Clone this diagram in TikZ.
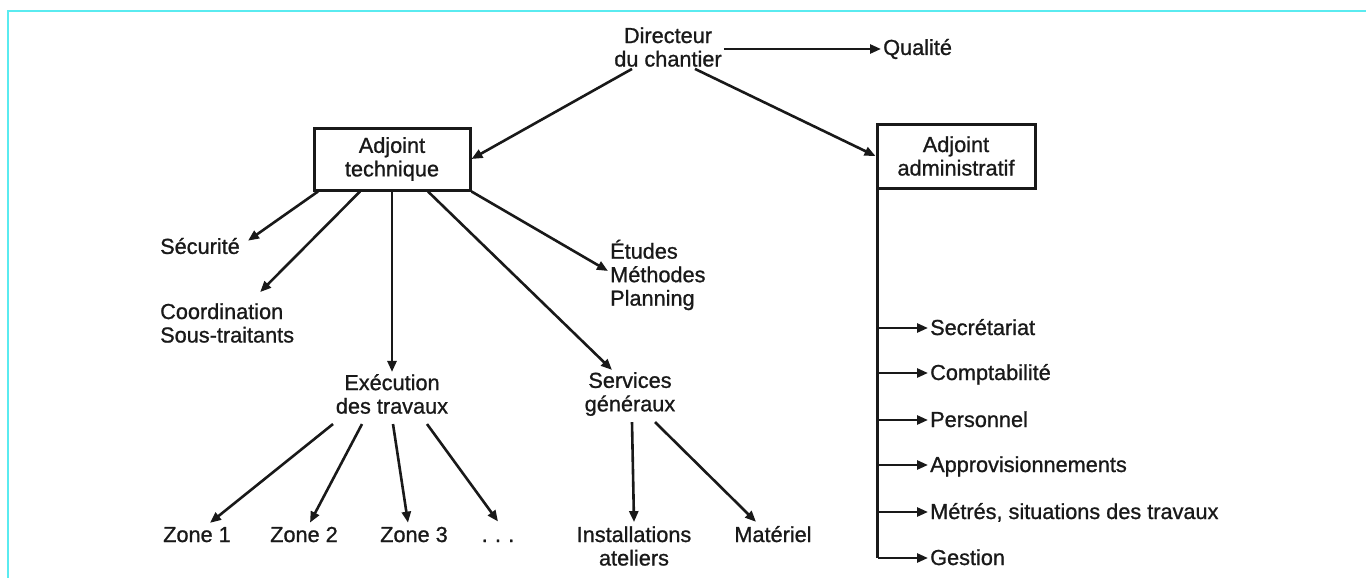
\documentclass[tikz,border=0pt]{standalone}
\usepackage{fontspec}
\setmainfont[FakeBold=1]{Liberation Sans}
\usepackage{tikz}
\usetikzlibrary{positioning,arrows.meta}
\definecolor{framecyan}{RGB}{90,235,240}
\definecolor{ink}{RGB}{25,25,25}

\begin{document}
\begin{tikzpicture}[x=1pt,y=-1pt,
    txt/.style={text=ink, inner sep=2pt, align=center, font=\fontsize{21.7}{23.5}\selectfont},
    lefttxt/.style={txt, align=left},
    box/.style={txt, draw=ink, line width=3pt, minimum width=156pt, minimum height=62pt},
    arr/.style={draw=ink, line width=2.6pt, -{Triangle[length=11pt,width=9pt]}},
    trunk/.style={draw=ink, line width=2.6pt}]
    \useasboundingbox (0,0) rectangle (1366,578);

    % Frame
    \draw[framecyan, line width=1.2pt] (1366,11) -- (8,11) -- (8,578);

    % Top level
    \node[txt] (dir) at (668,47) {Directeur\\du chantier};
    \node[txt, anchor=west] (qual) at (881,49) {Qualité};
    \node[box] (tech) at (392,159) {Adjoint\\technique};
    \node[box, minimum width=158pt, minimum height=64pt] (admin) at (956,156) {Adjoint\\administratif};

    \draw[arr] (dir.east |- qual.west) -- (qual.west);
    \draw[arr] ([xshift=-36pt]dir.south) -- (tech.east);
    \draw[arr] ([xshift=27pt]dir.south) -- (admin.west);

    % Technical branch
    \node[lefttxt, anchor=west] (secu) at (158,246) {Sécurité};
    \node[lefttxt, anchor=west] (coord) at (158,323) {Coordination\\Sous-traitants};
    \node[txt] (exec) at (392,394) {Exécution\\des travaux};
    \node[txt] (serv) at (630,394) {Services\\généraux};
    \node[lefttxt, anchor=west] (etud) at (608,275) {Études\\Méthodes\\Planning};

    \draw[arr] ([xshift=-74pt]tech.south) -- ([xshift=6pt,yshift=-5pt]secu.north east);
    \draw[arr] ([xshift=-32pt]tech.south) -- ([xshift=33pt,yshift=9pt]coord.north);
    \draw[arr] (tech.south) -- (exec.north);
    \draw[arr] ([xshift=36pt]tech.south) -- ([xshift=-18pt]serv.north);
    \draw[arr] (tech.south east) -- ([yshift=4pt]etud.west);

    % Zones
    \node[txt, anchor=base] (z1) at (197,542) {Zone 1};
    \node[txt, anchor=base] (z2) at (304,542) {Zone 2};
    \node[txt, anchor=base] (z3) at (414,542) {Zone 3};
    \node[txt, anchor=base] (zn) at (498,542) {.\,\,.\,\,.};

    \draw[arr] ([xshift=-59pt,yshift=-8pt]exec.south) -- ([xshift=13pt,yshift=2pt]z1.north);
    \draw[arr] ([xshift=-30pt,yshift=-8pt]exec.south) -- ([xshift=6pt,yshift=2pt]z2.north);
    \draw[arr] ([xshift=1pt,yshift=-8pt]exec.south) -- ([xshift=-6pt,yshift=2pt]z3.north);
    \draw[arr] ([xshift=35pt,yshift=-8pt]exec.south) -- ([yshift=16pt]zn.north);

    % General services
    \node[txt] (inst) at (634,546) {Installations\\ateliers};
    \node[txt, anchor=base] (mat) at (773,542) {Matériel};

    \draw[arr] ([xshift=2pt,yshift=-4pt]serv.south) -- ([yshift=2pt]inst.north);
    \draw[arr] ([xshift=25pt,yshift=-4pt]serv.south) -- ([xshift=-17pt,yshift=2pt]mat.north);

    % Administrative branch
    \node[lefttxt, anchor=base west] (a1) at (928,335) {Secrétariat};
    \node[lefttxt, anchor=base west] (a2) at (928,380) {Comptabilité};
    \node[lefttxt, anchor=base west] (a3) at (928,427) {Personnel};
    \node[lefttxt, anchor=base west] (a4) at (928,472) {Approvisionnements};
    \node[lefttxt, anchor=base west] (a5) at (928,519) {Métrés, situations des travaux};
    \node[lefttxt, anchor=base west] (a6) at (928,565) {Gestion};

    \coordinate (spine) at ([xshift=2pt]admin.south west);
    \foreach \n in {a1,a2,a3,a4,a5,a6}
        \coordinate (\n-in) at ([yshift=7pt]\n.base west);
    \draw[trunk] (spine) -- (spine |- a6-in);
    \foreach \n in {a1,a2,a3,a4,a5,a6}
        \draw[arr] (spine |- \n-in) -- (\n-in);

\end{tikzpicture}
\end{document}
